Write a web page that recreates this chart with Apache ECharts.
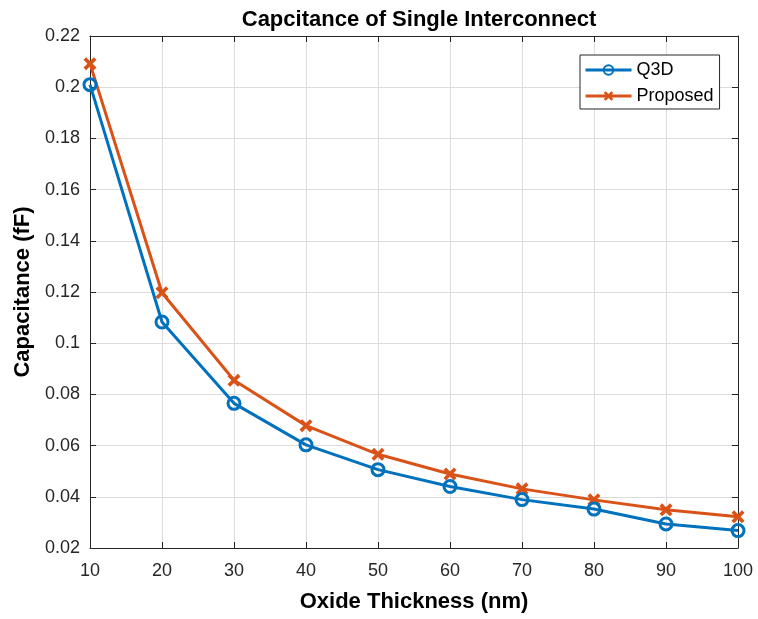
<!DOCTYPE html>
<html>
<head>
<meta charset="utf-8">
<script src="https://cdn.jsdelivr.net/npm/echarts@6/dist/echarts.min.js"></script>
<style>
html, body { margin: 0; padding: 0; background: #fff; }
#main { width: 758px; height: 619px; }
</style>
</head>
<body>
<div id="main"></div>
<script>
var thickness = [10, 20, 30, 40, 50, 60, 70, 80, 90, 100];
var q3d = [0.201, 0.1083, 0.0765, 0.0603, 0.0506, 0.0440, 0.0389, 0.0352, 0.0294, 0.0268];
var proposed = [0.2092, 0.1197, 0.0855, 0.0678, 0.0566, 0.0489, 0.0431, 0.0388, 0.0349, 0.0322];

var myChart = echarts.init(document.getElementById('main'));

function pairs(xs, ys) {
	var out = [];
	for (let i = 0; i < xs.length; i++) out.push([xs[i], ys[i]]);
	return out;
}

var font = 'Liberation Sans, Arial, Helvetica, sans-serif';
var axisColor = '#262626';
// filled X shape for the "Proposed" markers
var xMark = 'path://M2,0 L5,3 L8,0 L10,2 L7,5 L10,8 L8,10 L5,7 L2,10 L0,8 L3,5 L0,2 Z';

option = {
	backgroundColor: '#fff',
	animation: false,
	title: {
		text: 'Capcitance of Single Interconnect',
		left: 414,
		textAlign: 'center',
		top: 4,
		textStyle: { fontFamily: font, fontSize: 22, fontWeight: 'bold', color: '#000' }
	},
	legend: {
		left: 580,
		top: 55,
		orient: 'vertical',
		itemWidth: 46,
		itemHeight: 12,
		itemGap: 8,
		padding: [6, 6, 4, 4],
		borderColor: '#262626',
		borderWidth: 1,
		backgroundColor: '#fff',
		lineStyle: { width: 3 },
		textStyle: { fontFamily: font, fontSize: 18, color: '#000' },
		data: ['Q3D', 'Proposed']
	},
	grid: { left: 90, right: 20, top: 36, bottom: 71 },
	xAxis: [{
		type: 'value',
		min: 10, max: 100, interval: 10,
		name: 'Oxide Thickness (nm)',
		nameLocation: 'middle',
		nameGap: 43,
		nameTextStyle: { fontFamily: font, fontSize: 22, fontWeight: 'bold', color: '#000' },
		axisLine: { show: true, lineStyle: { color: axisColor, width: 1 } },
		axisTick: { show: true, inside: true, length: 6, lineStyle: { color: axisColor } },
		axisLabel: { fontFamily: font, fontSize: 18, color: axisColor, margin: 14 },
		splitLine: { show: true, lineStyle: { color: '#dcdcdc', width: 1 } }
	}, {
		type: 'value', position: 'top',
		min: 10, max: 100, interval: 10,
		axisLine: { show: true, lineStyle: { color: axisColor, width: 1 } },
		axisTick: { show: true, inside: true, length: 6, lineStyle: { color: axisColor } },
		axisLabel: { show: false },
		splitLine: { show: false }
	}],
	yAxis: [{
		type: 'value',
		min: 0.02, max: 0.22, interval: 0.02,
		name: 'Capacitance (fF)',
		nameLocation: 'middle',
		nameGap: 56,
		nameTextStyle: { fontFamily: font, fontSize: 22, fontWeight: 'bold', color: '#000' },
		axisLine: { show: true, lineStyle: { color: axisColor, width: 1 } },
		axisTick: { show: true, inside: true, length: 6, lineStyle: { color: axisColor } },
		axisLabel: {
			fontFamily: font, fontSize: 18, color: axisColor, margin: 10,
			formatter: function (v) { return String(+v.toFixed(2)); }
		},
		splitLine: { show: true, lineStyle: { color: '#dcdcdc', width: 1 } }
	}, {
		type: 'value', position: 'right',
		min: 0.02, max: 0.22, interval: 0.02,
		axisLine: { show: true, lineStyle: { color: axisColor, width: 1 } },
		axisTick: { show: true, inside: true, length: 6, lineStyle: { color: axisColor } },
		axisLabel: { show: false },
		splitLine: { show: false }
	}],
	series: [{
		name: 'Q3D',
		type: 'line',
		data: pairs(thickness, q3d),
		symbol: 'circle',
		symbolSize: 12,
		showAllSymbol: true,
		color: '#0072BD',
		lineStyle: { width: 3, color: '#0072BD' },
		itemStyle: { color: 'rgba(255,255,255,0)', borderWidth: 3, borderColor: '#0072BD' },
		z: 3
	}, {
		name: 'Proposed',
		type: 'line',
		data: pairs(thickness, proposed),
		symbol: xMark,
		symbolSize: 13,
		showAllSymbol: true,
		color: '#D95319',
		lineStyle: { width: 3, color: '#D95319' },
		itemStyle: { color: '#D95319' },
		z: 2
	}]
};
myChart.setOption(option);
</script>
</body>
</html>
